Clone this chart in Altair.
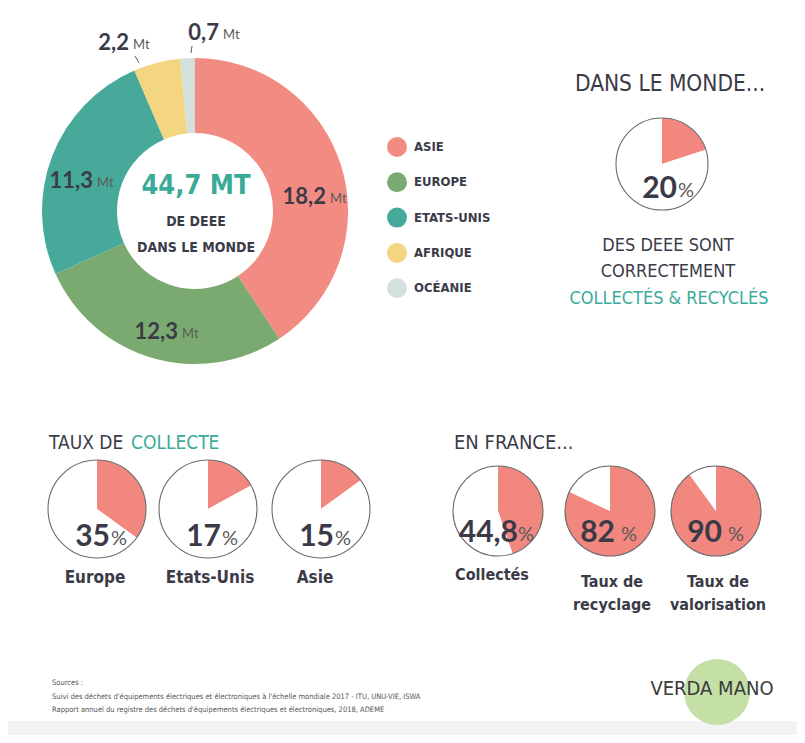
import math
import altair as alt
import pandas as pd

# ---------------- data ----------------
regions = ["ASIE", "EUROPE", "ETATS-UNIS", "AFRIQUE", "OCÉANIE"]
region_values = [18.2, 12.3, 11.3, 2.2, 0.7]
total_label = "44,7 MT"
world_rate = 20
collect_regions = ["Europe", "Etats-Unis", "Asie"]
collect_rates = [35, 17, 15]
france_labels = [["Collectés"], ["Taux de", "recyclage"], ["Taux de", "valorisation"]]
france_rates = [44.8, 82, 90]
sources = [
    "Sources :",
    "Suivi des déchets d'équipements électriques et électroniques à l'échelle mondiale 2017 - ITU, UNU-VIE, ISWA",
    "Rapport annuel du registre des déchets d'équipements électriques et électroniques,  2018, ADEME",
]

# ---------------- style ----------------
W, H = 789, 727
OFF = 8
region_colors = ["#f28b82", "#7aaa6f", "#47a999", "#f3d67f", "#d3e0dc"]
RED = "#f1877e"
TEAL = "#3aab98"
DARK = "#3b3b48"
GREY = "#5a5a5a"
COND = "'DejaVu Sans Condensed', 'Liberation Sans Narrow', Roboto, sans-serif"
GEO = "Lato, 'Open Sans', sans-serif"


def fmt(v):
    s = f"{v:.1f}" if v != int(v) else f"{int(v)}"
    return s.replace(".", ",")


def txt(s, x, y, size, color=DARK, font=COND, weight="bold", align="center"):
    return alt.Chart(pd.DataFrame({"t": [s]})).mark_text(
        align=align, baseline="middle", fontSize=size, font=font,
        fontWeight=weight, color=color
    ).encode(text="t:N", x=alt.value(x - OFF), y=alt.value(y - OFF))


def dot(cx, cy, r, color, opacity=1.0):
    return alt.Chart(pd.DataFrame({"a": [1]})).mark_point(
        shape="circle", filled=True, size=(2 * r) ** 2, color=color, opacity=opacity
    ).encode(x=alt.value(cx - OFF), y=alt.value(cy - OFF))


def pie(rate, cx, cy, r):
    df = pd.DataFrame({"part": ["oui", "non"], "v": [rate, 100 - rate], "o": [0, 1]})
    wedge = alt.Chart(df).mark_arc(outerRadius=r).encode(
        theta=alt.Theta("v:Q", stack=True),
        color=alt.Color("part:N", scale=alt.Scale(domain=["oui", "non"], range=[RED, "#ffffff"]), legend=None),
        order=alt.Order("o:Q"),
        x=alt.value(cx - OFF), y=alt.value(cy - OFF),
    )
    ring = alt.Chart(df.iloc[:1]).mark_point(
        shape="circle", filled=False, size=(2 * r) ** 2, stroke="#6a6a6a",
        strokeWidth=1.1, opacity=1
    ).encode(x=alt.value(cx - OFF), y=alt.value(cy - OFF))
    return [wedge, ring]


def pct(rate, xr, y, gap=1):
    return [
        txt(fmt(rate), xr, y, 30, color=DARK, font=GEO, weight="bold", align="right"),
        txt("%", xr + gap, y + 2, 20, color=GREY, font=GEO, weight="normal", align="left"),
    ]


layers = []

# bottom band
layers.append(alt.Chart(pd.DataFrame({"a": [1]})).mark_rect(color="#f3f3f3").encode(
    x=alt.value(0), x2=alt.value(W), y=alt.value(721 - OFF), y2=alt.value(H)))

# main donut
donut_df = pd.DataFrame({"region": regions, "value": region_values, "o": list(range(len(regions)))})
layers.append(alt.Chart(donut_df).mark_arc(innerRadius=78, outerRadius=153).encode(
    theta=alt.Theta("value:Q", stack=True),
    color=alt.Color("region:N", scale=alt.Scale(domain=regions, range=region_colors), legend=None),
    order=alt.Order("o:Q"),
    x=alt.value(195 - OFF), y=alt.value(211 - OFF),
))

# donut labels (right edge of number, vertical centre)
label_pos = [(326, 197), (178, 332), (93, 181), (129, 43), (219, 33)]
for v, (xr, yc) in zip(region_values, label_pos):
    layers.append(txt(fmt(v), xr, yc, 22, color=DARK, font=GEO, weight="bold", align="right"))
    layers.append(txt("Mt", xr + 4, yc + 2, 13, color=GREY, font=GEO, weight="normal", align="left"))

# leader ticks
for (x1, y1, x2, y2) in [(135, 56, 139, 63), (192, 46, 191, 53)]:
    layers.append(alt.Chart(pd.DataFrame({"a": [1]})).mark_rule(color=GREY, strokeWidth=1).encode(
        x=alt.value(x1 - OFF), x2=alt.value(x2 - OFF), y=alt.value(y1 - OFF), y2=alt.value(y2 - OFF)))

# centre text
layers.append(txt(total_label, 196, 186, 27, color=TEAL))
layers.append(txt("DE DEEE", 196, 222, 14))
layers.append(txt("DANS LE MONDE", 196, 248, 14))

# legend
for i, (reg, col) in enumerate(zip(regions, region_colors)):
    yc = 147 + i * 35.3
    layers.append(dot(397, yc, 10, col))
    layers.append(txt(reg, 414, yc, 13, align="left"))

# world block
layers.append(txt("DANS LE MONDE...", 670, 84, 22.5, weight="normal"))
layers += pie(world_rate, 662, 164, 46)
layers += pct(world_rate, 677, 189)
layers.append(txt("DES DEEE SONT", 668, 246, 18, weight="normal"))
layers.append(txt("CORRECTEMENT", 668, 272, 18, weight="normal"))
layers.append(txt("COLLECTÉS & RECYCLÉS", 669, 299, 18, color=TEAL, weight="normal"))

# taux de collecte
layers.append(txt("TAUX DE", 49, 443, 19, weight="normal", align="left"))
layers.append(txt("COLLECTE", 131, 443, 19, color=TEAL, weight="normal", align="left"))
for (lab, rate), cx, lx in zip(zip(collect_regions, collect_rates), [97, 208, 321], [95, 210, 315]):
    layers += pie(rate, cx, 509, 49)
    layers += pct(rate, cx + 13, 537)
    layers.append(txt(lab, lx, 578, 17))

# en france
layers.append(txt("EN FRANCE...", 454, 443, 20, weight="normal", align="left"))
for labs, rate, cx, xr, gap in zip(france_labels, france_rates, [498, 610, 716], [518, 615, 722], [0, 6, 6]):
    layers += pie(rate, cx, 511, 45)
    layers += pct(rate, xr, 533, gap)
    if len(labs) == 1:
        layers.append(txt(labs[0], cx - 6, 575, 16))
    else:
        layers.append(txt(labs[0], cx + 2, 582, 16))
        layers.append(txt(labs[1], cx + 2, 605, 16))

# sources
for i, s in enumerate(sources):
    layers.append(txt(s, 52, 683 + i * 13.5, 7.5, color="#555555", weight="normal", align="left"))

# logo
layers.append(dot(717, 692, 33, "#bedd9c", 0.9))
layers.append(txt("VERDA MANO", 712, 689, 20, color="#3a3a3a", weight="normal"))

chart = alt.layer(*layers).resolve_scale(
    theta="independent", color="independent"
).properties(
    width=W, height=H, padding=0, background="white"
).configure_view(stroke=None)

chart.save("out.html", embed_options={"renderer": "svg", "actions": False})
